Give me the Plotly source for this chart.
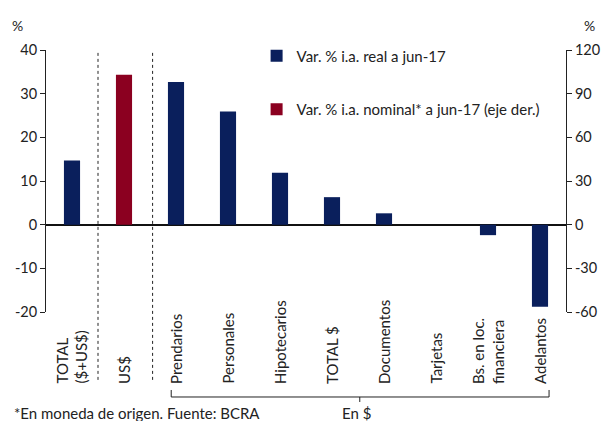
import plotly.graph_objects as go

# Credit categories and year-on-year changes (June 2017)
categories = ["TOTAL<br>($+US$)", "US$", "Prendarios", "Personales", "Hipotecarios",
              "TOTAL $", "Documentos", "Tarjetas", "Bs. en loc.<br>financiera", "Adelantos"]
real_change = [14.7, None, 32.7, 25.9, 11.9, 6.3, 2.6, 0.0, -2.4, -18.8]
nominal_change = [None, 103.0, None, None, None, None, None, None, None, None]

# axis ticks (left: real change, right: nominal change)
left_ticks = [-20, -10, 0, 10, 20, 30, 40]
left_labels = ["-20", "-10", "0", "10", "20", "30", "40"]
right_ticks = [-60, -30, 0, 30, 60, 90, 120]
right_labels = ["-60", "-30", "0", "30", "60", "90", "120"]

navy = "#0A1F5C"
maroon = "#8B0020"
font_family = "Lato, 'Liberation Sans', Arial, sans-serif"

fig = go.Figure()
fig.add_trace(go.Bar(
    x=categories, y=real_change, name="Var. % i.a. real a jun-17",
    marker=dict(color=navy, line=dict(width=0)), width=0.31,
    yaxis="y", legendgroup="a",
))
fig.add_trace(go.Bar(
    x=categories, y=nominal_change, name="Var. % i.a. nominal* a jun-17 (eje der.)",
    marker=dict(color=maroon, line=dict(width=0)), width=0.31,
    yaxis="y2", legendgroup="b",
))

shapes = []
# dotted separators between groups
for xpos in (0.5, 1.55):
    shapes.append(dict(type="line", xref="x", yref="paper", x0=xpos, x1=xpos,
                       y0=0.989, y1=-0.26,
                       line=dict(color="#222222", width=1, dash="dot")))
# bracket under the peso-denominated categories
x0, x1, xm = 0.2408, 0.9674, 0.6034
yt, yh, yb = -0.2977, -0.3244, -0.3435
shapes.append(dict(type="path", xref="paper", yref="paper",
                   path=f"M {x0},{yt} L {x0},{yh} L {x1},{yh} L {x1},{yt}",
                   line=dict(color="#222222", width=1)))
shapes.append(dict(type="line", xref="paper", yref="paper",
                   x0=xm, x1=xm, y0=yh, y1=yb,
                   line=dict(color="#222222", width=1)))

annotations = [
    dict(text="%", xref="paper", yref="paper", x=-0.054, y=1.095, xanchor="center",
         yanchor="middle", showarrow=False, font=dict(size=14, color="#222")),
    dict(text="%", xref="paper", yref="paper", x=1.046, y=1.095, xanchor="center",
         yanchor="middle", showarrow=False, font=dict(size=14, color="#222")),
    dict(text="*En moneda de origen. Fuente: BCRA", xref="paper", yref="paper",
         x=-0.065, y=-0.3855, xanchor="left", yanchor="middle", showarrow=False,
         font=dict(size=15, color="#222")),
    dict(text="En $", xref="paper", yref="paper", x=0.598, y=-0.3855,
         xanchor="center", yanchor="middle",
         showarrow=False, font=dict(size=15, color="#222")),
]
# vertical category labels, bottom-aligned under each bar
for cat in categories:
    annotations.append(dict(
        text=cat, xref="x", yref="paper", x=cat, y=-0.2824,
        xanchor="center", yanchor="bottom", textangle=-90, align="left",
        showarrow=False, font=dict(size=15, color="#222"),
    ))

fig.update_layout(
    width=612, height=421,
    margin=dict(l=46, r=44, t=50, b=109),
    paper_bgcolor="white", plot_bgcolor="white",
    font=dict(family=font_family, size=14, color="#222"),
    barmode="overlay",
    showlegend=True,
    legend=dict(x=0.405, y=1.04, xanchor="left", yanchor="top",
                traceorder="grouped", tracegroupgap=31,
                font=dict(size=15, color="#222"), bgcolor="rgba(0,0,0,0)",
                itemwidth=30),
    xaxis=dict(type="category", showticklabels=False, showline=False, ticks="",
               showgrid=False, zeroline=False),
    yaxis=dict(range=[-20, 40], tickvals=left_ticks, ticktext=left_labels,
               showgrid=False, showline=True,
               linecolor="#222", linewidth=1, ticks="outside", ticklen=5,
               tickcolor="#222", zeroline=True, zerolinecolor="#111",
               zerolinewidth=1.5, tickfont=dict(size=14.5)),
    yaxis2=dict(range=[-60, 120], tickvals=right_ticks, ticktext=right_labels,
                overlaying="y", side="right",
                showgrid=False, showline=True, linecolor="#222", linewidth=1,
                ticks="outside", ticklen=5, tickcolor="#222", zeroline=False,
                tickfont=dict(size=14.5)),
    shapes=shapes,
    annotations=annotations,
)

fig.write_html("out.html")
